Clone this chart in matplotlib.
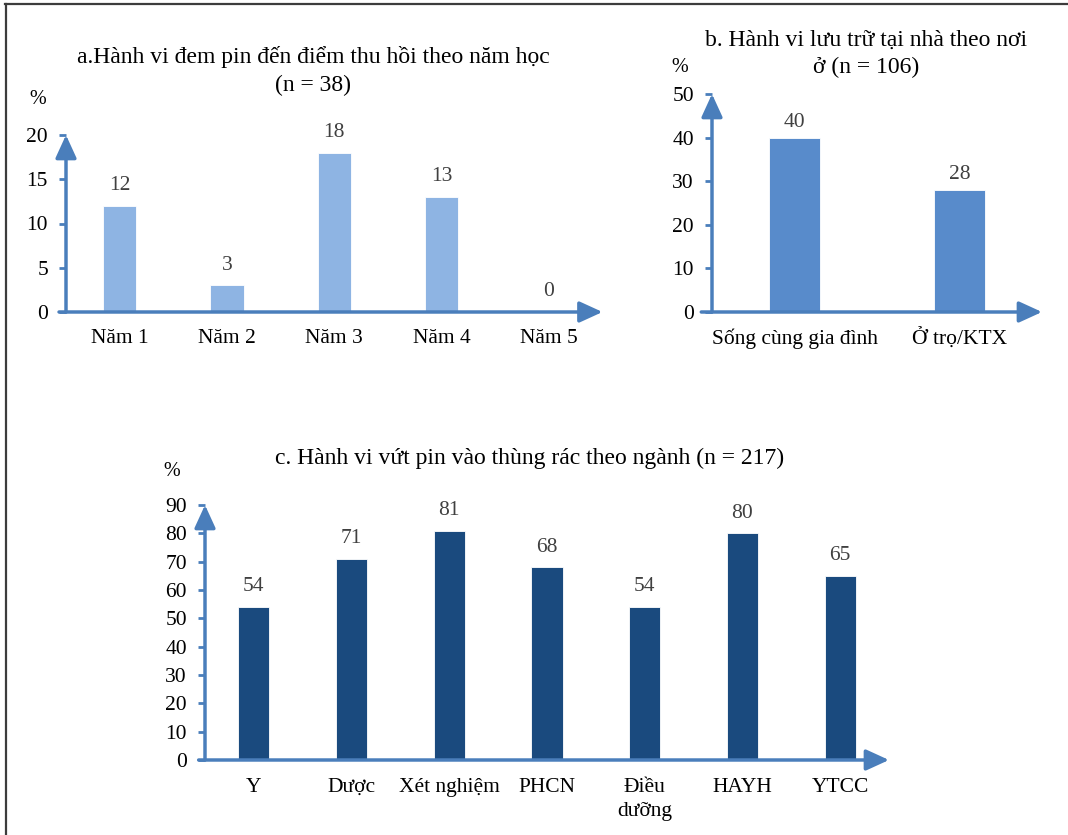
import matplotlib
matplotlib.use('Agg')
import matplotlib.pyplot as plt
from matplotlib.lines import Line2D

plt.rcParams['font.family'] = ['Liberation Serif', 'DejaVu Serif']

W, H = 1068, 835  # kích thước ảnh (px)

# ---- a. đem pin đến điểm thu hồi theo năm học ----
nam_hoc = ['Năm 1', 'Năm 2', 'Năm 3', 'Năm 4', 'Năm 5']
ty_le_thu_hoi = [12, 3, 18, 13, 0]

# ---- b. lưu trữ tại nhà theo nơi ở ----
noi_o = ['Sống cùng gia đình', 'Ở trọ/KTX']
ty_le_luu_tru = [40, 28]

# ---- c. vứt pin vào thùng rác theo ngành ----
nganh = ['Y', 'Dược', 'Xét nghiệm', 'PHCN', 'Điều\ndưỡng', 'HAYH', 'YTCC']
ty_le_vut_rac = [54, 71, 81, 68, 54, 80, 65]

AXIS_COL = '#4a7ebb'
LABEL_COL = '#404040'
FS_TITLE = 17
FS_TICK = 15.5


def px_axes(fig, x0, x1, y_top, y_zero):
    # tạo trục theo toạ độ pixel (gốc trên-trái)
    return fig.add_axes([x0 / W, 1 - y_zero / H, (x1 - x0) / W, (y_zero - y_top) / H])


def ve_cot(ax, labels, values, ymax, step, color, bar_w, label_off=14.5, xpad=12):
    n = len(labels)
    xs = [i + 0.5 for i in range(n)]
    ax.bar(xs, values, width=bar_w, color=color, edgecolor='white', linewidth=0.6, zorder=2)
    for x, v in zip(xs, values):
        ax.annotate(str(v), (x, v), xytext=(0, label_off), textcoords='offset points',
                    ha='center', va='center', fontsize=FS_TICK, color=LABEL_COL)
    ax.set_xlim(0, n)
    ax.set_ylim(0, ymax)
    ax.set_xticks(xs)
    ax.set_xticklabels(labels, fontsize=FS_TICK, linespacing=1.35)
    ax.set_yticks(range(0, ymax + 1, step))
    ax.tick_params(axis='x', length=0, pad=xpad)
    ax.tick_params(axis='y', length=5, width=2, color=AXIS_COL, pad=8, labelsize=FS_TICK)
    for s in ax.spines.values():
        s.set_visible(False)
    ax.patch.set_alpha(0)
    # trục có mũi tên
    arrow = dict(arrowstyle='-|>,head_length=0.7,head_width=0.32', color=AXIS_COL,
                 lw=2.5, shrinkA=0, shrinkB=0, mutation_scale=20)
    ax.annotate('', xy=(n, 0), xytext=(-0.065, 0), arrowprops=arrow,
                annotation_clip=False)
    ax.annotate('', xy=(0, ymax), xytext=(0, 0), arrowprops=arrow,
                annotation_clip=False)


fig = plt.figure(figsize=(W / 100, H / 100), dpi=100)

# a
ax_a = px_axes(fig, 66, 602.5, 135, 312)
ve_cot(ax_a, nam_hoc, ty_le_thu_hoi, 20, 5, '#8eb4e3', 0.31)
fig.text(313 / W, 1 - 57 / H, 'a.Hành vi đem pin đến điểm thu hồi theo năm học',
         ha='center', va='center', fontsize=FS_TITLE)
fig.text(313 / W, 1 - 85 / H, '(n = 38)', ha='center', va='center', fontsize=FS_TITLE)
fig.text(38 / W, 1 - 100 / H, '%', ha='center', va='center', fontsize=14.5)

# b
ax_b = px_axes(fig, 712, 1042, 94, 312)
ve_cot(ax_b, noi_o, ty_le_luu_tru, 50, 10, '#588bcb', 0.31, label_off=11)
fig.text(866 / W, 1 - 40 / H, 'b. Hành vi lưu trữ tại nhà theo nơi',
         ha='center', va='center', fontsize=FS_TITLE)
fig.text(866 / W, 1 - 67 / H, 'ở (n = 106)', ha='center', va='center', fontsize=FS_TITLE)
fig.text(680 / W, 1 - 67 / H, '%', ha='center', va='center', fontsize=14.5)

# c
ax_c = px_axes(fig, 205, 889, 505, 760)
ve_cot(ax_c, nganh, ty_le_vut_rac, 90, 10, '#1a4a7e', 0.32, xpad=13)
fig.text(530 / W, 1 - 458 / H, 'c. Hành vi vứt pin vào thùng rác theo ngành (n = 217)',
         ha='center', va='center', fontsize=FS_TITLE)
fig.text(172 / W, 1 - 471 / H, '%', ha='center', va='center', fontsize=14.5)

# khung viền trên và trái
fig.add_artist(Line2D([5 / W, 1], [1 - 4 / H, 1 - 4 / H], color='#3c3c3c', lw=1.6))
fig.add_artist(Line2D([6 / W, 6 / W], [0, 1 - 4 / H], color='#3c3c3c', lw=1.6))

fig.savefig('out.png', dpi=100, facecolor='white')
